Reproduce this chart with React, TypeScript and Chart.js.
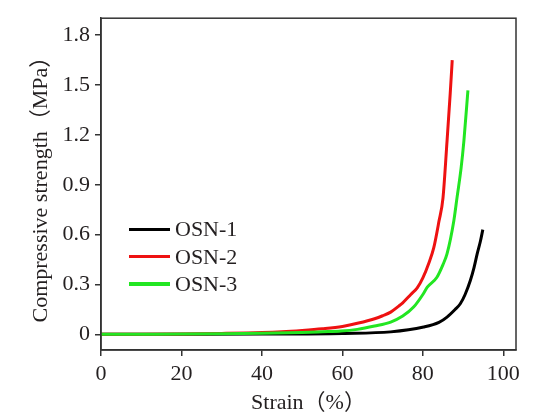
import { useEffect, useRef } from 'react';
import Chart from 'chart.js/auto';
import type { ChartConfiguration, Plugin } from 'chart.js';

// OSN-1 (black)
const osn1Strain = [0, 20, 40, 60, 72, 80.2, 84, 86, 88, 89.3, 90.5, 91.8, 92.7, 93.5, 94.3, 94.9];
const osn1Stress = [0, 0.001, 0.002, 0.006, 0.015, 0.044, 0.072, 0.104, 0.15, 0.184, 0.24, 0.324, 0.4, 0.484, 0.56, 0.63];

// OSN-2 (red)
const osn2Strain = [0, 10, 20, 30, 40, 45, 50, 55, 60, 64, 68, 70, 72, 74, 75, 77, 78.6, 80, 81.5, 82.7, 84, 85, 86, 86.8, 87.3];
const osn2Stress = [0, 0.001, 0.003, 0.006, 0.011, 0.016, 0.024, 0.034, 0.048, 0.068, 0.094, 0.112, 0.134, 0.17, 0.19, 0.24, 0.28, 0.34, 0.43, 0.52, 0.68, 0.82, 1.16, 1.45, 1.65];

// OSN-3 (green)
const osn3Strain = [0, 10, 20, 30, 40, 50, 55, 59.6, 63.7, 68, 72, 75, 77.7, 80, 81.1, 83.5, 85, 86, 87.7, 88.5, 89.5, 90.2, 91.2];
const osn3Stress = [0, 0.001, 0.002, 0.004, 0.007, 0.012, 0.016, 0.02, 0.03, 0.05, 0.074, 0.11, 0.164, 0.24, 0.284, 0.344, 0.42, 0.484, 0.684, 0.824, 1.0, 1.164, 1.468];

const xTicks = [0, 20, 40, 60, 80, 100];
const yTicks = [0, 0.3, 0.6, 0.9, 1.2, 1.5, 1.8];

const seriesNames = ['OSN-1', 'OSN-2', 'OSN-3'];
const seriesColors = ['#000000', '#ee1111', '#22e622'];

const serif = '"Liberation Serif", "Times New Roman", "Noto Sans CJK SC", serif';
const textColor = '#231f20';
const axisColor = '#333333';

const toPoints = (xs: number[], ys: number[]) => xs.map((x, i) => ({ x, y: ys[i] }));

// draws the closed frame round the plot area
const framePlugin: Plugin = {
  id: 'frame',
  afterDraw(chart) {
    const { ctx, chartArea } = chart;
    ctx.save();
    ctx.strokeStyle = axisColor;
    ctx.lineWidth = 1.5;
    ctx.strokeRect(chartArea.left, chartArea.top, chartArea.right - chartArea.left, chartArea.bottom - chartArea.top);
    ctx.restore();
  }
};

export default function App() {
  const canvasRef = useRef<HTMLCanvasElement | null>(null);
  const chartRef = useRef<Chart | null>(null);

  useEffect(() => {
    if (!canvasRef.current) return;
    if (chartRef.current) chartRef.current.destroy();

    const data = [
      toPoints(osn1Strain, osn1Stress),
      toPoints(osn2Strain, osn2Stress),
      toPoints(osn3Strain, osn3Stress)
    ];

    const config: ChartConfiguration<'line'> = {
      type: 'line',
      data: {
        datasets: data.map((d, i) => ({
          label: seriesNames[i],
          data: d,
          borderColor: seriesColors[i],
          backgroundColor: seriesColors[i],
          borderWidth: 3,
          pointRadius: 0,
          cubicInterpolationMode: 'monotone',
          order: 3 - i
        }))
      },
      options: {
        responsive: true,
        maintainAspectRatio: false,
        animation: false,
        layout: { padding: { top: 17, right: 30, left: 0, bottom: 0 } },
        plugins: {
          legend: { display: false },
          tooltip: { enabled: false }
        },
        scales: {
          x: {
            type: 'linear',
            min: 0,
            max: 103.15,
            afterBuildTicks: (scale) => {
              scale.ticks = xTicks.map(v => ({ value: v }));
            },
            afterFit: (scale) => {
              scale.height = 69;
            },
            ticks: {
              color: textColor,
              font: { family: serif, size: 22 },
              padding: 5,
              maxRotation: 0,
              callback: (v) => String(v)
            },
            grid: {
              drawOnChartArea: false,
              drawTicks: true,
              tickLength: 6,
              color: axisColor,
              lineWidth: 1.5
            },
            border: { display: true, color: axisColor, width: 1.5 },
            title: {
              display: true,
              text: 'Strain（%）',
              color: textColor,
              font: { family: serif, size: 22 },
              padding: { top: 0, bottom: 3 }
            }
          },
          y: {
            type: 'linear',
            min: -0.094,
            max: 1.902,
            afterBuildTicks: (scale) => {
              scale.ticks = yTicks.map(v => ({ value: v }));
            },
            afterFit: (scale) => {
              scale.width = 101;
            },
            ticks: {
              color: textColor,
              font: { family: serif, size: 22 },
              padding: 5,
              callback: (v) => (Number(v) === 0 ? '0' : Number(v).toFixed(1))
            },
            grid: {
              drawOnChartArea: false,
              drawTicks: true,
              tickLength: 6,
              color: axisColor,
              lineWidth: 1.5
            },
            border: { display: true, color: axisColor, width: 1.5 },
            title: {
              display: true,
              text: 'Compressive strength（MPa）',
              color: textColor,
              font: { family: serif, size: 22 },
              padding: { top: 28, bottom: 0 }
            }
          }
        }
      },
      plugins: [framePlugin]
    };

    chartRef.current = new Chart(canvasRef.current, config);

    return () => {
      if (chartRef.current) {
        chartRef.current.destroy();
        chartRef.current = null;
      }
    };
  }, []);

  const legendCenters = [229.3, 256.7, 284];

  return (
    <div style={{ position: 'absolute', left: 0, top: 0, width: 546, height: 419, background: '#fff' }}>
      <canvas ref={canvasRef} />
      {seriesNames.map((name, i) => (
        <div
          key={name}
          style={{
            position: 'absolute',
            left: 129,
            top: legendCenters[i] - 14,
            height: 28,
            display: 'flex',
            alignItems: 'center',
            fontFamily: serif,
            fontSize: 22,
            color: textColor,
            pointerEvents: 'none'
          }}
        >
          <span style={{ display: 'inline-block', width: 41, height: 3.5, background: seriesColors[i], marginRight: 5 }} />
          <span>{name}</span>
        </div>
      ))}
    </div>
  );
}
